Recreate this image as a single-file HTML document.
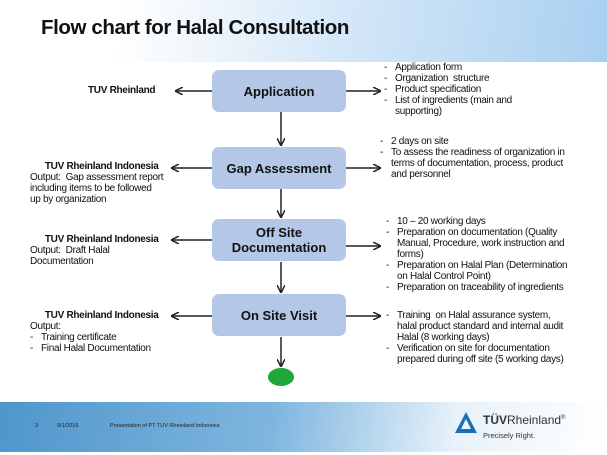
<!DOCTYPE html>
<html><head><style>
body{margin:0;width:607px;height:455px;position:relative;background:#fff;font-family:"Liberation Sans",Arial,sans-serif;overflow:hidden}
.hdr{position:absolute;left:0;top:0;width:607px;height:62px;background:linear-gradient(100deg,#fff 20%,#d6e8f8 55%,#a9d0f0 100%)}
.ttl{position:absolute;left:41px;top:16px;font-size:20.5px;font-weight:bold;color:#111;letter-spacing:-0.4px}
.ftr{position:absolute;left:0;top:402px;width:607px;height:50px;background:linear-gradient(100deg,#4f96cc 0%,#7fb6df 45%,#e8f2fa 75%,#fff 100%)}
.box{position:absolute;left:212px;width:134px;height:42px;background:#b4c7e7;border-radius:7px;display:flex;align-items:center;justify-content:center;text-align:center;font-weight:bold;font-size:13px;color:#111;line-height:15px}
.t{position:absolute;font-size:10px;color:#111;line-height:11px;letter-spacing:-0.3px;white-space:nowrap}
.b{font-weight:bold}
ul{margin:0;padding:0;list-style:none}
li{padding-left:11px;text-indent:-11px}
li:before{content:"-";display:inline-block;width:11px;text-indent:0}
</style></head><body>
<div class="hdr"></div>
<div class="ttl">Flow chart for Halal Consultation</div>
<svg style="position:absolute;left:0;top:0" width="607" height="455">
<defs><marker id="a" markerWidth="8" markerHeight="8" refX="7" refY="4" orient="auto" markerUnits="userSpaceOnUse"><path d="M0,0 L8,4 L0,8" fill="none" stroke="#222" stroke-width="1.5"/></marker></defs>
<g stroke="#222" stroke-width="1.5" fill="none" marker-end="url(#a)">
<line x1="212" y1="91" x2="176" y2="91"/><line x1="346" y1="91" x2="380" y2="91"/>
<line x1="212" y1="168" x2="172" y2="168"/><line x1="346" y1="168" x2="380" y2="168"/>
<line x1="212" y1="240" x2="172" y2="240"/><line x1="346" y1="246" x2="380" y2="246"/>
<line x1="212" y1="316" x2="172" y2="316"/><line x1="346" y1="316" x2="380" y2="316"/>
<line x1="281" y1="112" x2="281" y2="145"/><line x1="281" y1="189" x2="281" y2="217"/>
<line x1="281" y1="262" x2="281" y2="292"/><line x1="281" y1="337" x2="281" y2="366"/>
</g>
<ellipse cx="281" cy="377" rx="13" ry="9" fill="#1fa83a"/>
</svg>
<div class="box" style="top:70px">Application</div>
<div class="box" style="top:147px">Gap Assessment</div>
<div class="box" style="top:219px">Off Site<br>Documentation</div>
<div class="box" style="top:294px">On Site Visit</div>
<div class="t b" style="left:88px;top:85px">TUV Rheinland</div>
<div class="t" style="left:30px;top:161px"><span class="b">&nbsp;&nbsp;&nbsp;&nbsp;&nbsp;&nbsp;TUV Rheinland Indonesia</span><br>Output:&nbsp; Gap assessment report<br>including items to be followed<br>up by organization</div>
<div class="t" style="left:30px;top:234px"><span class="b">&nbsp;&nbsp;&nbsp;&nbsp;&nbsp;&nbsp;TUV Rheinland Indonesia</span><br>Output:&nbsp; Draft Halal<br>Documentation</div>
<div class="t" style="left:30px;top:310px"><span class="b">&nbsp;&nbsp;&nbsp;&nbsp;&nbsp;&nbsp;TUV Rheinland Indonesia</span><br>Output:<ul><li>Training certificate</li><li>Final Halal Documentation</li></ul></div>
<div class="t" style="left:384px;top:62px"><ul><li>Application form</li><li>Organization&nbsp; structure</li><li>Product specification</li><li>List of ingredients (main and<br>supporting)</li></ul></div>
<div class="t" style="left:380px;top:136px"><ul><li>2 days on site</li><li>To assess the readiness of organization in<br>terms of documentation, process, product<br>and personnel</li></ul></div>
<div class="t" style="left:386px;top:216px"><ul><li>10 – 20 working days</li><li>Preparation on documentation (Quality<br>Manual, Procedure, work instruction and<br>forms)</li><li>Preparation on Halal Plan (Determination<br>on Halal Control Point)</li><li>Preparation on traceability of ingredients</li></ul></div>
<div class="t" style="left:386px;top:310px"><ul><li>Training&nbsp; on Halal assurance system,<br>halal product standard and internal audit<br>Halal (8 working days)</li><li>Verification on site for documentation<br>prepared during off site (5 working days)</li></ul></div>
<div class="ftr"></div>
<div style="position:absolute;left:35px;top:423px;font-size:5.5px;color:#222">3</div>
<div style="position:absolute;left:57px;top:423px;font-size:5.5px;color:#222">9/1/2016</div>
<div style="position:absolute;left:110px;top:423px;font-size:5.5px;color:#222">Presentation of PT TUV Rheinland Indonesia</div>
<svg style="position:absolute;left:453px;top:410px" width="26" height="26"><path d="M13,2 L24,23 L2,23 Z M13,9 L8,19 L18,19 Z" fill="#1a6fb7" fill-rule="evenodd"/></svg>
<div style="position:absolute;left:483px;top:413px;font-size:12px;color:#333"><b>TÜV</b>Rheinland<sup style="font-size:6px">®</sup></div>
<div style="position:absolute;left:483px;top:431px;font-size:7.5px;color:#333">Precisely Right.</div>
</body></html>
